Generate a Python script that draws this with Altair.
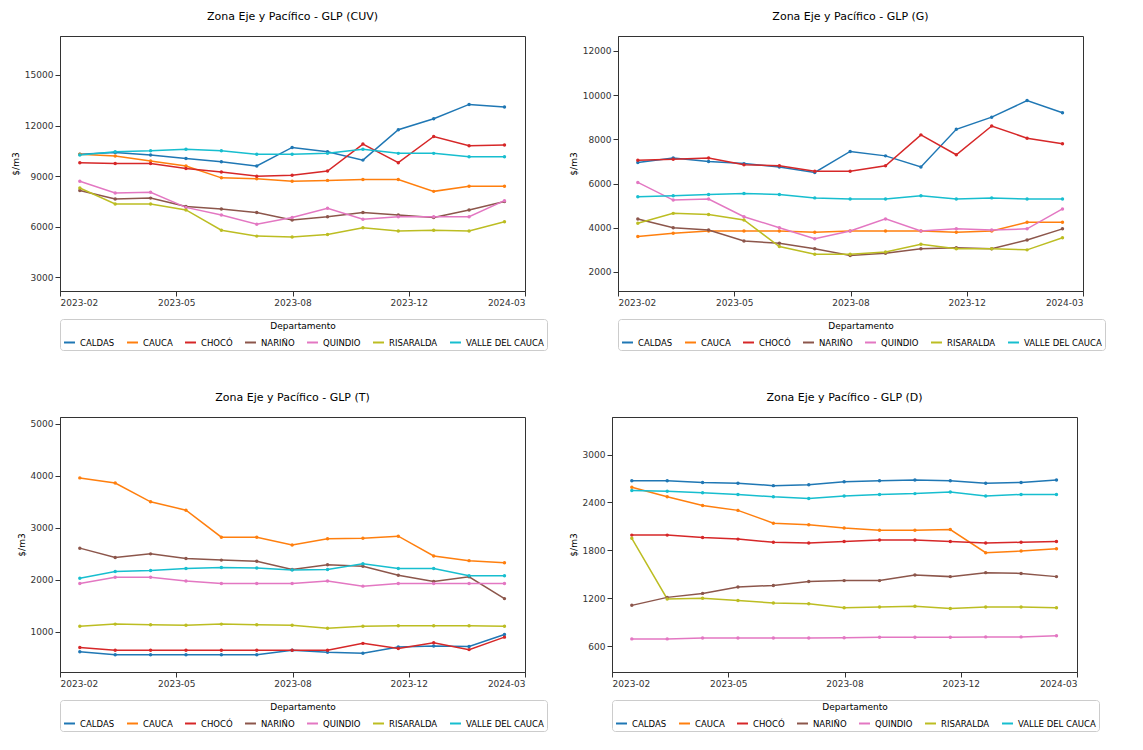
import pandas as pd
import altair as alt

deptos = ["CALDAS", "CAUCA", "CHOCÓ", "NARIÑO", "QUINDIO", "RISARALDA", "VALLE DEL CAUCA"]
colors = ["#1f77b4", "#ff7f0e", "#d62728", "#8c564b", "#e377c2", "#bcbd22", "#17becf"]
x_tick_pos = [-0.56, 2.725, 6.01, 9.295, 12.58]
x_tick_lab = ["2023-02", "2023-05", "2023-08", "2023-12", "2024-03"]

cuv = {
    "CALDAS": [10300, 10400, 10250, 10050, 9850, 9600, 10700, 10450, 9950, 11750, 12400, 13250, 13100],
    "CAUCA": [10300, 10200, 9900, 9600, 8900, 8850, 8700, 8750, 8800, 8800, 8100, 8400, 8400],
    "CHOCÓ": [9800, 9750, 9750, 9450, 9250, 9000, 9050, 9300, 10900, 9800, 11350, 10800, 10850],
    "NARIÑO": [8150, 7650, 7700, 7200, 7050, 6850, 6400, 6600, 6850, 6700, 6550, 7000, 7500],
    "QUINDIO": [8700, 8000, 8050, 7150, 6700, 6150, 6550, 7100, 6450, 6600, 6600, 6600, 7550],
    "RISARALDA": [8300, 7350, 7350, 7000, 5800, 5450, 5400, 5550, 5950, 5750, 5800, 5750, 6300],
    "VALLE DEL CAUCA": [10250, 10450, 10500, 10600, 10500, 10300, 10300, 10350, 10600, 10350, 10350, 10150, 10150],
}
g = {
    "CALDAS": [6950, 7150, 7000, 6900, 6750, 6500, 7450, 7250, 6750, 8450, 9000, 9750, 9200],
    "CAUCA": [3600, 3750, 3850, 3850, 3850, 3800, 3850, 3850, 3850, 3800, 3850, 4250, 4250],
    "CHOCÓ": [7050, 7100, 7150, 6850, 6800, 6550, 6550, 6800, 8200, 7300, 8600, 8050, 7800],
    "NARIÑO": [4400, 4000, 3900, 3400, 3300, 3050, 2750, 2850, 3050, 3100, 3050, 3450, 3950],
    "QUINDIO": [6050, 5250, 5300, 4500, 4000, 3500, 3850, 4400, 3850, 3950, 3900, 3950, 4850],
    "RISARALDA": [4200, 4650, 4600, 4350, 3150, 2800, 2800, 2900, 3250, 3050, 3050, 3000, 3550],
    "VALLE DEL CAUCA": [5400, 5450, 5500, 5550, 5500, 5350, 5300, 5300, 5450, 5300, 5350, 5300, 5300],
}
t = {
    "CALDAS": [620, 560, 560, 560, 560, 560, 650, 610, 590, 710, 730, 720, 950],
    "CAUCA": [3960, 3860, 3500, 3340, 2820, 2820, 2670, 2790, 2800, 2840, 2460, 2370, 2330],
    "CHOCÓ": [700, 650, 650, 650, 650, 650, 650, 650, 780, 680, 790, 660, 900],
    "NARIÑO": [2610, 2430, 2500, 2410, 2380, 2360, 2200, 2290, 2260, 2090, 1970, 2060, 1640],
    "QUINDIO": [1930, 2050, 2050, 1980, 1930, 1930, 1930, 1980, 1880, 1930, 1930, 1930, 1930],
    "RISARALDA": [1110, 1150, 1140, 1130, 1150, 1140, 1130, 1070, 1110, 1120, 1120, 1120, 1110],
    "VALLE DEL CAUCA": [2030, 2160, 2180, 2220, 2240, 2230, 2190, 2200, 2310, 2220, 2220, 2080, 2080],
}
d = {
    "CALDAS": [2670, 2670, 2650, 2640, 2610, 2620, 2660, 2670, 2680, 2670, 2640, 2650, 2680],
    "CAUCA": [2590, 2470, 2360, 2300, 2140, 2120, 2080, 2050, 2050, 2060, 1770, 1790, 1820],
    "CHOCÓ": [1990, 1990, 1960, 1940, 1900, 1890, 1910, 1930, 1930, 1910, 1890, 1900, 1910],
    "NARIÑO": [1110, 1210, 1260, 1340, 1360, 1410, 1420, 1420, 1490, 1470, 1520, 1510, 1470],
    "QUINDIO": [690, 690, 700, 700, 700, 700, 705, 710, 710, 710, 715, 715, 730],
    "RISARALDA": [1950, 1190, 1200, 1170, 1140, 1130, 1080, 1090, 1100, 1070, 1090, 1090, 1080],
    "VALLE DEL CAUCA": [2550, 2540, 2520, 2500, 2470, 2450, 2480, 2500, 2510, 2530, 2480, 2500, 2500],
}

label_expr = " ".join(
    f"abs(datum.value - {p}) < 0.01 ? '{l}' :" for p, l in zip(x_tick_pos, x_tick_lab)) + " ''"


def panel(series, title, ydomain, yticks):
    rows = [{"idx": i, "Departamento": k, "v": v}
            for k, vals in series.items() for i, v in enumerate(vals)]
    df = pd.DataFrame(rows)
    return (
        alt.Chart(df)
        .mark_line(strokeWidth=1.5, point=alt.OverlayMarkDef(size=12, filled=True))
        .encode(
            x=alt.X("idx:Q", title=None, scale=alt.Scale(domain=[-0.56, 12.58], nice=False, zero=False),
                    axis=alt.Axis(values=x_tick_pos, labelExpr=label_expr, grid=False)),
            y=alt.Y("v:Q", title="$/m3", scale=alt.Scale(domain=ydomain, nice=False, zero=False),
                    axis=alt.Axis(values=yticks, format="d", grid=False)),
            color=alt.Color("Departamento:N", scale=alt.Scale(domain=deptos, range=colors),
                            legend=alt.Legend(orient="bottom", direction="horizontal", columns=7,
                                              titleAnchor="middle", titleFontWeight="normal",
                                              symbolType="stroke", symbolStrokeWidth=2, symbolSize=120,
                                              strokeColor="#cccccc", padding=3, cornerRadius=3,
                                              labelFontSize=8.5, titleFontSize=9, columnPadding=8,
                                              offset=12)),
        )
        .properties(title=title, width=465, height=255)
    )


p1 = panel(cuv, "Zona Eje y Pacífico - GLP (CUV)", [2200, 17300], [3000, 6000, 9000, 12000, 15000])
p2 = panel(g, "Zona Eje y Pacífico - GLP (G)", [1140, 12670], [2000, 4000, 6000, 8000, 10000, 12000])
p3 = panel(t, "Zona Eje y Pacífico - GLP (T)", [230, 5130], [1000, 2000, 3000, 4000, 5000])
p4 = panel(d, "Zona Eje y Pacífico - GLP (D)", [275, 3470], [600, 1200, 1800, 2400, 3000])

row1 = alt.hconcat(p1, p2, spacing=20).resolve_scale(color="independent")
row2 = alt.hconcat(p3, p4, spacing=20).resolve_scale(color="independent")

chart = (
    alt.vconcat(row1, row2, spacing=40)
    .resolve_scale(color="independent")
    .configure(
        font="DejaVu Sans",
        padding=2,
        view=alt.ViewConfig(stroke="#333333"),
        axis=alt.AxisConfig(labelFontSize=9, titleFontSize=9, titleFontWeight="normal",
                            labelColor="#333333", domainColor="#333333", tickColor="#333333"),
        title=alt.TitleConfig(fontSize=11, fontWeight="normal", offset=14),
    )
)

chart.save("out.html", embed_options={"renderer": "svg", "actions": False})
